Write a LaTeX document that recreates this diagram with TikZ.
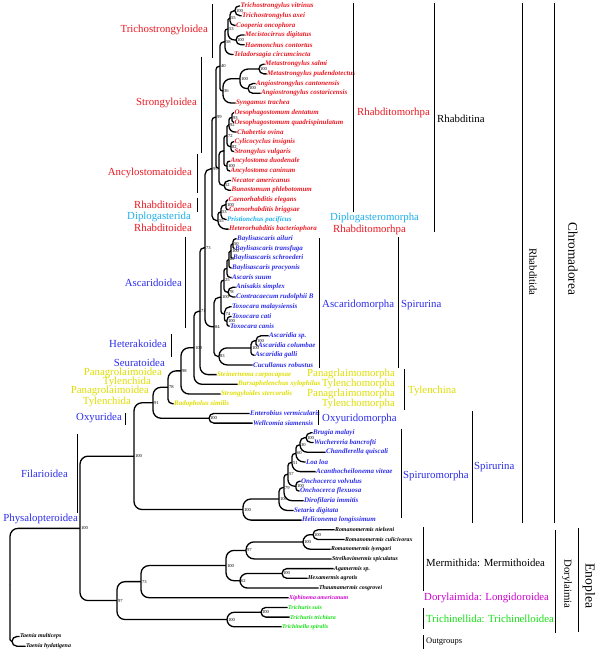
\documentclass[tikz,border=0pt]{standalone}
\usepackage{fontspec}
\setmainfont{Liberation Serif}
\usetikzlibrary{calc}
\definecolor{cred}{RGB}{235,25,35}
\definecolor{cblue}{RGB}{45,45,235}
\definecolor{ccyan}{RGB}{30,175,235}
\definecolor{cyel}{RGB}{222,222,0}
\definecolor{cgreen}{RGB}{20,225,20}
\definecolor{cmag}{RGB}{205,0,205}
\tikzset{
 branch/.style={line width=1.3pt},
 leaf/.style={anchor=west, inner sep=0.4pt, font=\fontsize{7}{7}\selectfont\bfseries\itshape},
 leafsm/.style={anchor=west, inner sep=0.4pt, font=\fontsize{5.9}{6}\selectfont\bfseries\itshape},
 leafred/.style={leaf,text=cred}, leafblue/.style={leaf,text=cblue},
 leafcyan/.style={leaf,text=ccyan}, leafyel/.style={leaf,text=cyel},
 leafblk/.style={leafsm,text=black}, leafgrn/.style={leafsm,text=cgreen},
 leafmag/.style={leafsm,text=cmag},
 bs/.style={anchor=west, inner sep=0.3pt, font=\fontsize{4.6}{5}\selectfont},
 grp/.style={inner sep=0pt, font=\fontsize{10.8}{12}\selectfont},
 bar/.style={line width=0.9pt},
}
\newcommand\LF[5]{\coordinate (#1) at (#2,#3); \node[#4] (#1t) at (#1) {#5};}
\newcommand\IN[4]{\coordinate (#1) at (#2,#3); \node[bs] (#1b) at ([xshift=0.5pt]#1) {#4};}
\newcommand\BR[2]{\draw[branch] let \p1=(#1), \p2=(#2), \n1={min(8pt,abs(\y2-\y1),0.8*(\x2-\x1))} in [rounded corners=\n1] (#1) |- (#2);}
\newcommand\BRS[2]{\foreach \c in {#2}{\BR{#1}{\c}}}
\begin{document}
\begin{tikzpicture}[x=1pt,y=-1pt]
\fill[white] (0,0) rectangle (600,660);
\useasboundingbox (0,0) rectangle (600,660);
% leaves
\LF{l1}{240}{6.0}{leafred}{Trichostrongylus vitrinus}
\LF{l2}{241.5}{15.7}{leafred}{Trichostrongylus axei}
\LF{l3}{235.5}{25.4}{leafred}{Cooperia oncophora}
\LF{l4}{244.5}{35.1}{leafred}{Mecistocirrus digitatus}
\LF{l5}{244.5}{44.8}{leafred}{Haemonchus contortus}
\LF{l6}{233.5}{54.5}{leafred}{Teladorsagia circumcincta}
\LF{l7}{264.5}{64.2}{leafred}{Metastrongylus salmi}
\LF{l8}{266.5}{73.9}{leafred}{Metastrongylus pudendotectus}
\LF{l9}{255.5}{83.6}{leafred}{Angiostrongylus cantonensis}
\LF{l10}{260.5}{93.3}{leafred}{Angiostrongylus costaricensis}
\LF{l11}{235.5}{103.0}{leafred}{Syngamus trachea}
\LF{l12}{234}{112.7}{leafred}{Oesophagostomum dentatum}
\LF{l13}{234}{122.4}{leafred}{Oesophagostomum quadrispinulatum}
\LF{l14}{236.5}{132.1}{leafred}{Chabertia ovina}
\LF{l15}{234}{141.8}{leafred}{Cylicocyclus insignis}
\LF{l16}{234}{151.5}{leafred}{Strongylus vulgaris}
\LF{l17}{230}{161.2}{leafred}{Ancylostoma duodenale}
\LF{l18}{230}{170.9}{leafred}{Ancylostoma caninum}
\LF{l19}{231}{180.6}{leafred}{Necator americanus}
\LF{l20}{231}{190.3}{leafred}{Bunostomum phlebotomum}
\LF{l21}{228}{200.0}{leafred}{Caenorhabditis elegans}
\LF{l22}{228.5}{209.7}{leafred}{Caenorhabditis briggsae}
\LF{l23}{226.5}{219.4}{leafcyan}{Pristionchus pacificus}
\LF{l24}{228.5}{229.1}{leafred}{Heterorhabditis bacteriophora}
\LF{l25}{236.5}{238.8}{leafblue}{Baylisascaris ailuri}
\LF{l26}{234.5}{248.5}{leafblue}{Baylisascaris transfuga}
\LF{l27}{232.5}{258.2}{leafblue}{Baylisascaris schroederi}
\LF{l28}{231.5}{267.9}{leafblue}{Baylisascaris procyonis}
\LF{l29}{231.5}{277.6}{leafblue}{Ascaris suum}
\LF{l30}{235.5}{287.3}{leafblue}{Anisakis simplex}
\LF{l31}{235.5}{297.0}{leafblue}{Contracaecum rudolphii B}
\LF{l32}{231.5}{306.7}{leafblue}{Toxocara malaysiensis}
\LF{l33}{231.5}{316.4}{leafblue}{Toxocara cati}
\LF{l34}{229.5}{326.1}{leafblue}{Toxocara canis}
\LF{l35}{268.5}{335.8}{leafblue}{Ascaridia sp.}
\LF{l36}{257.5}{345.5}{leafblue}{Ascaridia columbae}
\LF{l37}{254.5}{355.2}{leafblue}{Ascaridia galli}
\LF{l38}{252.5}{364.9}{leafblue}{Cucullanus robustus}
\LF{l39}{216.5}{374.6}{leafyel}{Steinernema carpocapsae}
\LF{l40}{237.5}{384.3}{leafyel}{Bursaphelenchus xylophilus}
\LF{l41}{220.5}{394.0}{leafyel}{Strongyloides stercoralis}
\LF{l42}{173.5}{403.7}{leafyel}{Radopholus similis}
\LF{l43}{249.5}{413.4}{leafblue}{Enterobius vermicularis}
\LF{l44}{252.5}{423.1}{leafblue}{Wellcomia siamensis}
\LF{l45}{312.5}{432.8}{leafblue}{Brugia malayi}
\LF{l46}{313.5}{442.5}{leafblue}{Wuchereria bancrofti}
\LF{l47}{325.5}{452.2}{leafblue}{Chandlerella quiscali}
\LF{l48}{305.5}{461.9}{leafblue}{Loa loa}
\LF{l49}{315.5}{471.6}{leafblue}{Acanthocheilonema viteae}
\LF{l50}{300.5}{481.3}{leafblue}{Onchocerca volvulus}
\LF{l51}{299.5}{491.0}{leafblue}{Onchocerca flexuosa}
\LF{l52}{303.5}{500.7}{leafblue}{Dirofilaria immitis}
\LF{l53}{293.5}{510.4}{leafblue}{Setaria digitata}
\LF{l54}{301.5}{520.1}{leafblue}{Heliconema longissimum}
\LF{l55}{334.5}{529.8}{leafblk}{Romanomermis nielseni}
\LF{l56}{344.5}{539.5}{leafblk}{Romanomermis culicivorax}
\LF{l57}{330.5}{549.2}{leafblk}{Romanomermis iyengari}
\LF{l58}{331.5}{558.9}{leafblk}{Strelkovimermis spiculatus}
\LF{l59}{333.5}{568.6}{leafblk}{Agamermis sp.}
\LF{l60}{307.5}{578.3}{leafblk}{Hexamermis agrotis}
\LF{l61}{318.5}{588.0}{leafblk}{Thaumamermis cosgrovei}
\LF{l62}{288.5}{597.7}{leafmag}{Xiphinema americanum}
\LF{l63}{287.5}{607.4}{leafgrn}{Trichuris suis}
\LF{l64}{289.5}{617.1}{leafgrn}{Trichuris trichiura}
\LF{l65}{281.5}{626.8}{leafgrn}{Trichinella spiralis}
\LF{l66}{19.5}{636.5}{leafblk}{Taenia multiceps}
\LF{l67}{25.5}{646.2}{leafblk}{Taenia hydatigena}
% internal nodes
\IN{n12}{235}{10.85}{100}
\IN{n123}{230}{18.13}{55}
\IN{n45}{236}{39.95}{100}
\IN{n12345}{228}{29.04}{53}
\IN{n16}{225}{41.77}{58}
\IN{n78}{259}{69.05}{100}
\IN{n910}{248}{88.45}{100}
\IN{n710}{240}{78.75}{100}
\IN{n711}{223}{90.88}{36}
\IN{S1}{220}{66.32}{40}
\IN{n1213}{232}{117.55}{93}
\IN{n1214}{229}{124.83}{92}
\IN{n1516}{231}{146.65}{82}
\IN{n1216}{227}{135.74}{72}
\IN{n1718}{227}{166.05}{100}
\coordinate (n1218) at (224,150.9);
\IN{n1920}{224}{185.45}{52}
\coordinate (n1220) at (219,168.17);
\IN{SA}{216}{117.25}{99}
\IN{n2122}{226}{204.85}{100}
\IN{n2123}{221}{212.13}{53}
\IN{n2124}{218}{220.6}{55}
\IN{RB}{212}{168.9}{99}
\IN{n2526}{233}{243.65}{50}
\IN{n2527}{231}{250.93}{100}
\IN{n2528}{229}{259.41}{82}
\coordinate (n2529) at (227,268.5);
\IN{n3031}{228}{292.15}{78}
\IN{n2531}{224}{280.33}{25}
\IN{n3334}{227}{321.25}{100}
\IN{n3234}{224.5}{313.98}{74}
\IN{n2534}{221}{297.15}{100}
\IN{n3536}{256}{340.65}{100}
\IN{n3537}{251}{347.93}{100}
\IN{n3538}{219}{356.41}{83}
\IN{A84}{214}{326.78}{84}
\IN{C73}{205}{247.84}{73}
\IN{C7x}{200}{311.22}{71}
\IN{C100b}{194}{347.76}{100}
\IN{C98}{181}{370.88}{98}
\IN{C78}{168}{387.29}{78}
\IN{n4344}{209}{418.25}{100}
\IN{C91}{153}{402.77}{91}
\IN{n4546}{306}{437.65}{100}
\IN{n4547}{300}{444.93}{30}
\IN{n4548}{296}{453.41}{60}
\IN{n4549}{292}{462.5}{51}
\IN{n5051}{296}{486.15}{100}
\IN{n4951}{288}{474.33}{57}
\IN{n4952}{284}{487.5}{79}
\IN{E}{279}{498.96}{100}
\IN{D}{243}{509.53}{100}
\IN{B}{134}{456.15}{100}
\IN{n5556}{313}{534.65}{100}
\IN{n5557}{303}{541.9}{100}
\IN{n5558}{246}{550.4}{97}
\IN{n5960}{282}{573.45}{100}
\IN{n5961}{240}{580.73}{62}
\IN{nMer}{226}{565.57}{100}
\IN{n73E}{141}{581.63}{73}
\IN{n6364}{261}{612.25}{100}
\IN{n6365}{227}{619.53}{100}
\IN{C97}{117}{600.58}{97}
\IN{A}{80}{528.37}{100}
\coordinate (T) at (12,641.35);
\coordinate (root) at (10,584.86);
% branches
\BRS{n12}{l1,l2}
\BRS{n123}{n12,l3}
\BRS{n45}{l4,l5}
\BRS{n12345}{n123,n45}
\BRS{n16}{n12345,l6}
\BRS{n78}{l7,l8}
\BRS{n910}{l9,l10}
\BRS{n710}{n78,n910}
\BRS{n711}{n710,l11}
\BRS{S1}{n16,n711}
\BRS{n1213}{l12,l13}
\BRS{n1214}{n1213,l14}
\BRS{n1516}{l15,l16}
\BRS{n1216}{n1214,n1516}
\BRS{n1718}{l17,l18}
\BRS{n1218}{n1216,n1718}
\BRS{n1920}{l19,l20}
\BRS{n1220}{n1218,n1920}
\BRS{SA}{S1,n1220}
\BRS{n2122}{l21,l22}
\BRS{n2123}{n2122,l23}
\BRS{n2124}{n2123,l24}
\BRS{RB}{SA,n2124}
\BRS{n2526}{l25,l26}
\BRS{n2527}{n2526,l27}
\BRS{n2528}{n2527,l28}
\BRS{n2529}{n2528,l29}
\BRS{n3031}{l30,l31}
\BRS{n2531}{n2529,n3031}
\BRS{n3334}{l33,l34}
\BRS{n3234}{l32,n3334}
\BRS{n2534}{n2531,n3234}
\BRS{n3536}{l35,l36}
\BRS{n3537}{n3536,l37}
\BRS{n3538}{n3537,l38}
\BRS{A84}{n2534,n3538}
\BRS{C73}{RB,A84}
\BRS{C7x}{C73,l39}
\BRS{C100b}{C7x,l40}
\BRS{C98}{C100b,l41}
\BRS{C78}{C98,l42}
\BRS{n4344}{l43,l44}
\BRS{C91}{C78,n4344}
\BRS{n4546}{l45,l46}
\BRS{n4547}{n4546,l47}
\BRS{n4548}{n4547,l48}
\BRS{n4549}{n4548,l49}
\BRS{n5051}{l50,l51}
\BRS{n4951}{n4549,n5051}
\BRS{n4952}{n4951,l52}
\BRS{E}{n4952,l53}
\BRS{D}{E,l54}
\BRS{B}{C91,D}
\BRS{n5556}{l55,l56}
\BRS{n5557}{n5556,l57}
\BRS{n5558}{n5557,l58}
\BRS{n5960}{l59,l60}
\BRS{n5961}{n5960,l61}
\BRS{nMer}{n5558,n5961}
\BRS{n73E}{nMer,l62}
\BRS{n6364}{l63,l64}
\BRS{n6365}{n6364,l65}
\BRS{C97}{n73E,n6365}
\BRS{A}{B,C97}
\BRS{T}{l66,l67}
\BRS{root}{A,T}
% bars
\draw[bar] (212,4) -- (212,58);
\draw[bar] (201,57) -- (201,153);
\draw[bar] (197,154) -- (197,193);
\draw[bar] (197,198) -- (197,212);
\draw[bar] (185,237) -- (185,328);
\draw[bar] (171,334) -- (171,357);
\draw[bar] (125,413) -- (125,425);
\draw[bar] (77,434) -- (77,513);
\draw[bar] (353,3) -- (353,212);
\draw[bar] (434,3) -- (434,232);
\draw[bar] (522,3) -- (522,523);
\draw[bar] (554,3) -- (554,523);
\draw[bar] (319,238) -- (319,368);
\draw[bar] (398,237) -- (398,368);
\draw[bar] (404,369) -- (404,410);
\draw[bar] (318,410) -- (318,425);
\draw[bar] (401,429) -- (401,518);
\draw[bar] (472,411) -- (472,523);
\draw[bar] (423,527) -- (423,591);
\draw[bar] (423,608) -- (423,629);
\draw[bar] (423,635) -- (423,649);
\draw[bar] (555,530) -- (555,633);
\draw[bar] (578,528) -- (578,632);
% group labels left
\node[grp,text=cred,anchor=east] (g1) at (208,30) {Trichostrongyloidea};
\node[grp,text=cred,anchor=east] (g2) at (197,103) {Strongyloidea};
\node[grp,text=cred,anchor=east] (g3) at (192,173) {Ancylostomatoidea};
\node[grp,text=cred,anchor=east] (g4) at (192,205) {Rhabditoidea};
\node[grp,text=ccyan,anchor=east] (g5) at (191,217) {Diplogasterida};
\node[grp,text=cred,anchor=east] (g6) at (192,228) {Rhabditoidea};
\node[grp,text=cblue,anchor=east] (g7) at (182,283) {Ascaridoidea};
\node[grp,text=cblue,anchor=east] (g8) at (167,344) {Heterakoidea};
\node[grp,text=cblue,anchor=east] (g9) at (165,363) {Seuratoidea};
\node[grp,text=cyel,anchor=east] (g10) at (162,373) {Panagrolaimoidea};
\node[grp,text=cyel,anchor=east] (g11) at (151,382) {Tylenchida};
\node[grp,text=cyel,anchor=east] (g12) at (149,391) {Panagrolaimoidea};
\node[grp,text=cyel,anchor=east] (g13) at (131,402) {Tylenchida};
\node[grp,text=cblue,anchor=east] (g14) at (122,418) {Oxyuridea};
\node[grp,text=cblue,anchor=east] (g15) at (68,474) {Filarioidea};
\node[grp,text=cblue,anchor=east] (g16) at (78,519) {Physalopteroidea};
% group labels right
\node[grp,text=cred,anchor=west] (h1) at (357,113) {Rhabditomorhpa};
\node[grp,anchor=west] (h2) at (437,119) {Rhabditina};
\node[grp,text=ccyan,anchor=west] (h3) at (330,218) {Diplogasteromorpha};
\node[grp,text=cred,anchor=west] (h4) at (333,230) {Rhabditomorhpa};
\node[grp,text=cblue,anchor=west] (h5) at (322,305) {Ascaridomorpha};
\node[grp,text=cblue,anchor=west] (h6) at (401,305) {Spirurina};
\node[grp,text=cyel,anchor=east] (h7) at (395,374) {Panagrlaimomorpha};
\node[grp,text=cyel,anchor=east] (h8) at (395,384) {Tylenchomorpha};
\node[grp,text=cyel,anchor=east] (h9) at (395,394) {Panagrlaimomorpha};
\node[grp,text=cyel,anchor=east] (h10) at (395,404) {Tylenchomorpha};
\node[grp,text=cyel,anchor=west] (h11) at (408,391) {Tylenchina};
\node[grp,text=cblue,anchor=west] (h12) at (322,419) {Oxyuridomorpha};
\node[grp,text=cblue,anchor=west] (h13) at (403,476) {Spiruromorpha};
\node[grp,text=cblue,anchor=west] (h14) at (474,467) {Spirurina};
\node[grp,rotate=-90] (h15) at (533,272) {Rhabditida};
\node[grp,rotate=-90,font=\fontsize{13.3}{14}\selectfont] (h16) at (573,259) {Chromadorea};
\node[grp,anchor=west] (h17) at (426,563) {Mermithida: Mermithoidea};
\node[grp,text=cmag,anchor=west] (h18) at (424,598) {Dorylaimida: Longidoroidea};
\node[grp,text=cgreen,anchor=west] (h19) at (426,619) {Trichinellida: Trichinelloidea};
\node[grp,anchor=west,font=\fontsize{8.5}{9}\selectfont] (h20) at (426,642) {Outgroups};
\node[grp,rotate=-90] (h21) at (567,584) {Dorylaimia};
\node[grp,rotate=-90,font=\fontsize{13.7}{14}\selectfont] (h22) at (589,586) {Enoplea};
\end{tikzpicture}
\end{document}
